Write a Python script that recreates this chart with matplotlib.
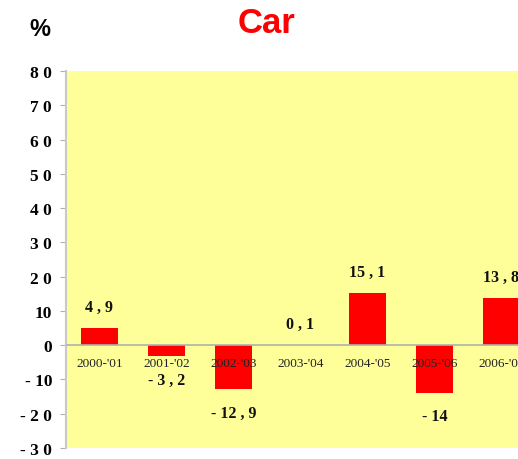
import numpy as np
import matplotlib
matplotlib.use("Agg")
import matplotlib.pyplot as plt

# data
seasons = ["2000-'01", "2001-'02", "2002-'03", "2003-'04", "2004-'05", "2005-'06", "2006-'07"]
values = [4.9, -3.2, -12.9, 0.1, 15.1, -14, 13.8]
value_labels = ["4 , 9", "- 3 , 2", "- 12 , 9", "0 , 1", "15 , 1", "- 14", "13 , 8"]
y_ticks = [80, 70, 60, 50, 40, 30, 20, 10, 0, -10, -20, -30]
y_tick_labels = ["8 0", "7 0", "6 0", "5 0", "4 0", "3 0", "2 0", "10", "0", "- 10", "- 2 0", "- 3 0"]

fig = plt.figure(figsize=(5.18, 4.60), dpi=100)
ax = fig.add_axes([0.1274, 0.024, 0.905, 0.8195])
ax.set_facecolor("#ffff99")

x = np.arange(len(seasons))
ax.bar(x, values, width=0.55, color="#ff0000", zorder=2)
ax.axhline(0, color="#b0b0b0", lw=1.2, zorder=3)

ax.set_xlim(-0.5, len(seasons) - 0.5)
ax.set_ylim(-30, 80)
ax.set_yticks(y_ticks)
ax.set_yticklabels(y_tick_labels, fontfamily="Liberation Serif", fontweight="bold", fontsize=12.5)
ax.tick_params(axis="y", length=4, color="#b0b0b0", pad=6)
ax.set_xticks([])

for s in ["top", "right", "bottom"]:
    ax.spines[s].set_visible(False)
ax.spines["left"].set_color("#c8c8c8")
ax.spines["left"].set_linewidth(1.5)

# category names just below the zero line
for i, name in enumerate(seasons):
    ax.text(i, -5.3, name, ha="center", va="center", fontfamily="Liberation Serif",
            fontsize=9.5, color="#222222", zorder=4)

# value labels
for i, (v, lab) in enumerate(zip(values, value_labels)):
    off = 6.2 if v >= 0 else -6.8
    ax.text(i, v + off, lab, ha="center", va="center", fontfamily="Liberation Serif",
            fontweight="bold", fontsize=11.5, color="#111111", zorder=4)

fig.text(0.514, 0.948, "Car", ha="center", va="center", color="#ff0000",
         fontfamily="Liberation Sans", fontweight="bold", fontsize=25)
fig.text(0.077, 0.935, "%", ha="center", va="center", color="black",
         fontfamily="Liberation Sans", fontweight="bold", fontsize=17)

fig.savefig("out.png", dpi=100)
